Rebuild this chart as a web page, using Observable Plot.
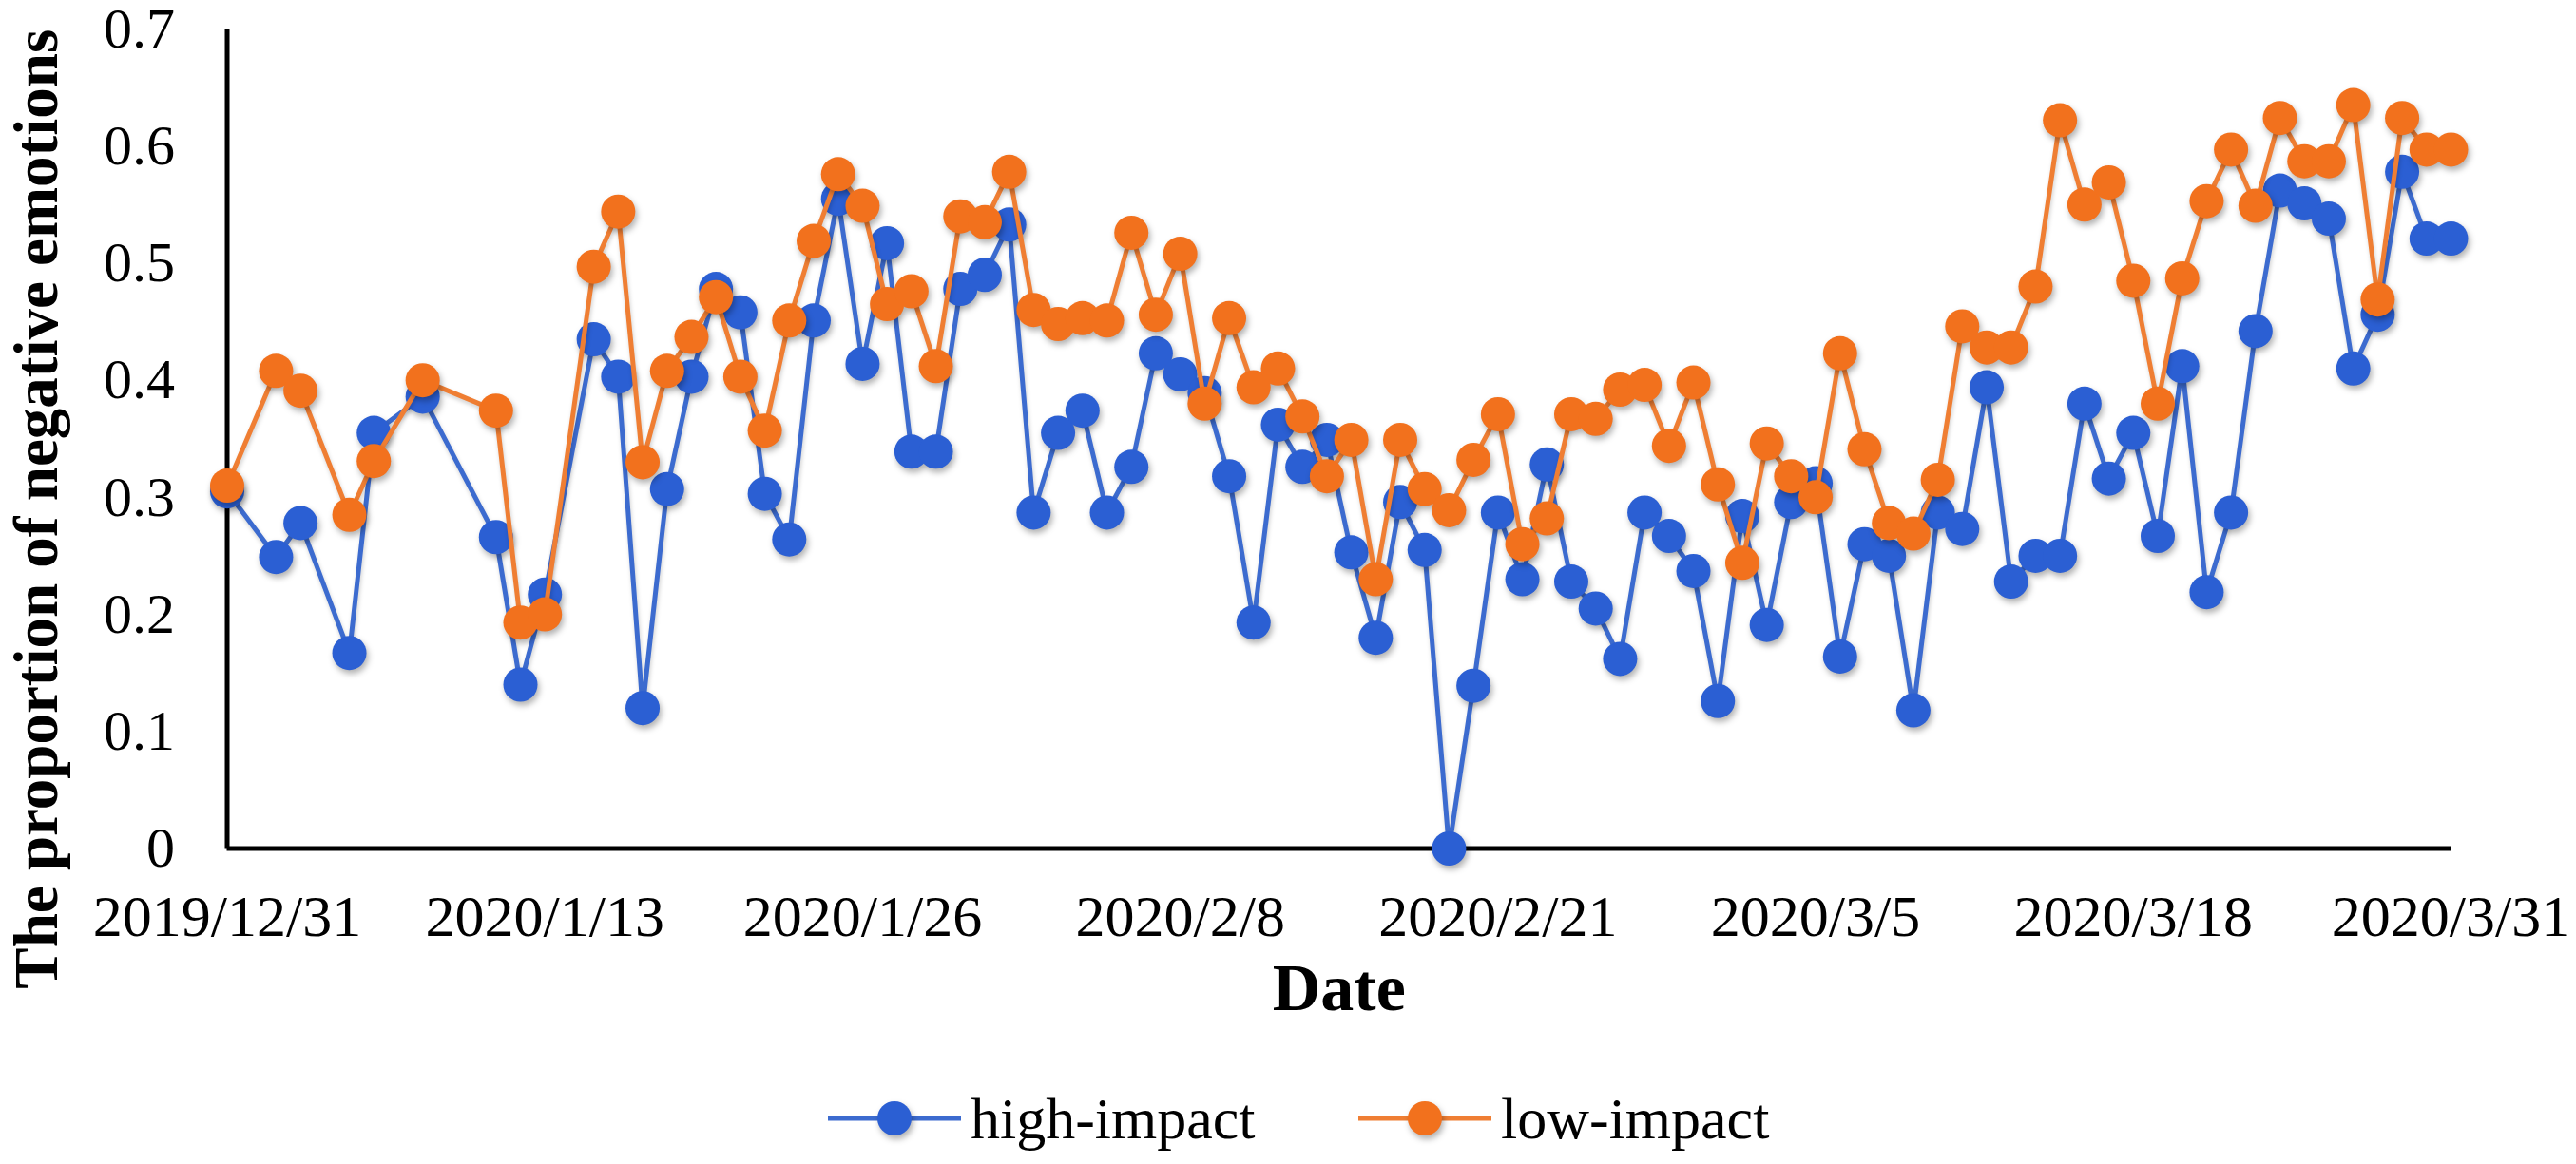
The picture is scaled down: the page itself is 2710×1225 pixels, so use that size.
<!DOCTYPE html>
<html>
<head>
<meta charset="utf-8">
<script src="https://cdn.jsdelivr.net/npm/d3@7"></script>
<script src="https://cdn.jsdelivr.net/npm/@observablehq/plot@0.6"></script>
<style>
html, body { margin: 0; padding: 0; background: #fff; overflow: hidden; }
#chart svg g[aria-label="dot"] { filter: drop-shadow(2px 4px 3px rgba(0,0,0,0.30)); }
#chart svg g[aria-label="line"] { filter: drop-shadow(1px 3px 2px rgba(0,0,0,0.18)); }
#legend { position: relative; width: 2710px; height: 115px; font-family: "Liberation Serif", "Times New Roman", serif; font-size: 62px; color: #000; }
#legend .item { position: absolute; top: 19px; height: 96px; display: flex; align-items: center; }
#legend .item span { margin-left: 10px; }
</style>
</head>
<body>
<div id="chart"></div>
<div id="legend"></div>
<script>
// ---- data ----
const dates = [
  "2019/12/31","2020/1/2","2020/1/3","2020/1/5","2020/1/6","2020/1/8","2020/1/11","2020/1/12","2020/1/13",
  "2020/1/15","2020/1/16","2020/1/17","2020/1/18","2020/1/19","2020/1/20","2020/1/21","2020/1/22","2020/1/23",
  "2020/1/24","2020/1/25","2020/1/26","2020/1/27","2020/1/28","2020/1/29","2020/1/30","2020/1/31",
  "2020/2/1","2020/2/2","2020/2/3","2020/2/4","2020/2/5","2020/2/6","2020/2/7","2020/2/8","2020/2/9","2020/2/10",
  "2020/2/11","2020/2/12","2020/2/13","2020/2/14","2020/2/15","2020/2/16","2020/2/17","2020/2/18","2020/2/19","2020/2/20",
  "2020/2/21","2020/2/22","2020/2/23","2020/2/24","2020/2/25","2020/2/26","2020/2/27","2020/2/28","2020/2/29",
  "2020/3/1","2020/3/2","2020/3/3","2020/3/4","2020/3/5","2020/3/6","2020/3/7","2020/3/8","2020/3/9","2020/3/10",
  "2020/3/11","2020/3/12","2020/3/13","2020/3/14","2020/3/15","2020/3/16","2020/3/17","2020/3/18","2020/3/19","2020/3/20",
  "2020/3/21","2020/3/22","2020/3/23","2020/3/24","2020/3/25","2020/3/26","2020/3/27","2020/3/28","2020/3/29","2020/3/30",
  "2020/3/31"
];
const highImpact = [
  0.305, 0.249, 0.278, 0.167, 0.355, 0.386, 0.266, 0.140, 0.217,
  0.435, 0.403, 0.120, 0.307, 0.403, 0.478, 0.458, 0.303, 0.264, 0.451, 0.555, 0.414, 0.517, 0.339, 0.339, 0.478, 0.490,
  0.533, 0.287, 0.355, 0.374, 0.287, 0.326, 0.423, 0.405, 0.389, 0.318, 0.193, 0.362, 0.326, 0.349, 0.253, 0.180, 0.296,
  0.255, 0.000, 0.139, 0.287, 0.230, 0.328, 0.228, 0.205, 0.162, 0.287, 0.267, 0.237,
  0.126, 0.284, 0.191, 0.296, 0.312, 0.164, 0.260, 0.250, 0.118, 0.287, 0.273, 0.394, 0.228, 0.250, 0.250, 0.380,
  0.316, 0.355, 0.267, 0.412, 0.219, 0.287, 0.442, 0.562, 0.551, 0.538, 0.410, 0.456, 0.578, 0.521, 0.521
];
const lowImpact = [
  0.310, 0.408, 0.391, 0.285, 0.331, 0.400, 0.374, 0.193, 0.200,
  0.497, 0.544, 0.330, 0.408, 0.437, 0.471, 0.403, 0.357, 0.451, 0.519, 0.576, 0.549, 0.465, 0.476, 0.412, 0.540, 0.535,
  0.578, 0.460, 0.448, 0.453, 0.451, 0.526, 0.456, 0.508, 0.380, 0.453, 0.394, 0.410, 0.369, 0.318, 0.349, 0.230, 0.349,
  0.307, 0.289, 0.332, 0.371, 0.260, 0.282, 0.371, 0.367, 0.392, 0.396, 0.344, 0.398,
  0.311, 0.244, 0.346, 0.318, 0.300, 0.423, 0.341, 0.278, 0.269, 0.315, 0.446, 0.428, 0.428, 0.480, 0.622, 0.550,
  0.569, 0.485, 0.380, 0.487, 0.553, 0.597, 0.549, 0.624, 0.587, 0.587, 0.635, 0.469, 0.624, 0.597, 0.597
];
const seriesNames = ["high-impact", "low-impact"];
const xTickLabels = ["2019/12/31","2020/1/13","2020/1/26","2020/2/8","2020/2/21","2020/3/5","2020/3/18","2020/3/31"];
const yTicks = [0, 0.1, 0.2, 0.3, 0.4, 0.5, 0.6, 0.7];
const yTickLabels = ["0","0.1","0.2","0.3","0.4","0.5","0.6","0.7"];
const xTitle = "Date";
const yTitle = "The proportion of negative emotions";

// ---- styles ----
const SERIF = "'Liberation Serif', 'Times New Roman', Times, serif";
const BLUE = "#2B5FD3", BLUE_LINE = "#3C6BCF";
const ORANGE = "#F2711D", ORANGE_LINE = "#EF7E33";

const parse = s => { const [y, m, d] = s.split("/").map(Number); return new Date(Date.UTC(y, m - 1, d)); };
const rows = dates.map((s, i) => ({date: parse(s), high: highImpact[i], low: lowImpact[i]}));
const xTickDates = xTickLabels.map(parse);
const xStart = xTickDates[0], xEnd = xTickDates[xTickDates.length - 1];

const chart = Plot.plot({
  width: 2710,
  height: 1110,
  marginLeft: 238.5,
  marginRight: 132,
  marginTop: 30,
  marginBottom: 217.5,
  style: {fontFamily: SERIF, fontSize: "60px", background: "#fff", color: "#000", overflow: "visible"},
  x: {type: "utc", domain: [xStart, xEnd]},
  y: {domain: [0, 0.7]},
  marks: [
    Plot.axisY({
      ticks: yTicks,
      tickFormat: d => { const k = yTicks.indexOf(d); return k >= 0 ? yTickLabels[k] : d3.format("~g")(d); },
      tickSize: 0, tickPadding: 55, fontSize: 60, label: null
    }),
    Plot.axisX({
      ticks: xTickDates,
      tickFormat: d => { const k = xTickDates.findIndex(t => +t === +d); return k >= 0 ? xTickLabels[k] : ""; },
      tickSize: 0, tickPadding: 48, fontSize: 62, label: null
    }),
    Plot.ruleY([{y: 0, x1: xStart, x2: xEnd}], {y: "y", x1: "x1", x2: "x2", stroke: "#000", strokeWidth: 5}),
    Plot.ruleX([{x: xStart, y1: 0, y2: 0.7}], {x: "x", y1: "y1", y2: "y2", stroke: "#000", strokeWidth: 5}),
    Plot.line(rows, {x: "date", y: "high", stroke: BLUE_LINE, strokeWidth: 5}),
    Plot.dot(rows, {x: "date", y: "high", fill: BLUE, r: 18}),
    Plot.line(rows, {x: "date", y: "low", stroke: ORANGE_LINE, strokeWidth: 5}),
    Plot.dot(rows, {x: "date", y: "low", fill: ORANGE, r: 18}),
    Plot.text([yTitle], {frameAnchor: "left", textAnchor: "middle", lineAnchor: "middle", dx: -200, dy: 74, rotate: -90, fontWeight: "bold", fontSize: 65, fill: "#000"}),
    Plot.text([xTitle], {frameAnchor: "bottom", textAnchor: "middle", dy: 170, fontWeight: "bold", fontSize: 70, fill: "#000"})
  ]
});
document.getElementById("chart").appendChild(chart);

// ---- legend (HTML below the svg) ----
const legend = document.getElementById("legend");
const legendItems = [
  {name: seriesNames[0], fill: BLUE, line: BLUE_LINE, left: 871},
  {name: seriesNames[1], fill: ORANGE, line: ORANGE_LINE, left: 1429}
];
for (const it of legendItems) {
  const div = document.createElement("div");
  div.className = "item";
  div.style.left = it.left + "px";
  div.innerHTML = `<svg width="140" height="44" style="overflow:visible">
      <line x1="0" y1="22" x2="140" y2="22" stroke="${it.line}" stroke-width="5"/>
      <circle cx="70" cy="22" r="18" fill="${it.fill}" style="filter:drop-shadow(2px 4px 3px rgba(0,0,0,0.3))"/>
    </svg><span>${it.name}</span>`;
  legend.appendChild(div);
}
</script>
</body>
</html>
